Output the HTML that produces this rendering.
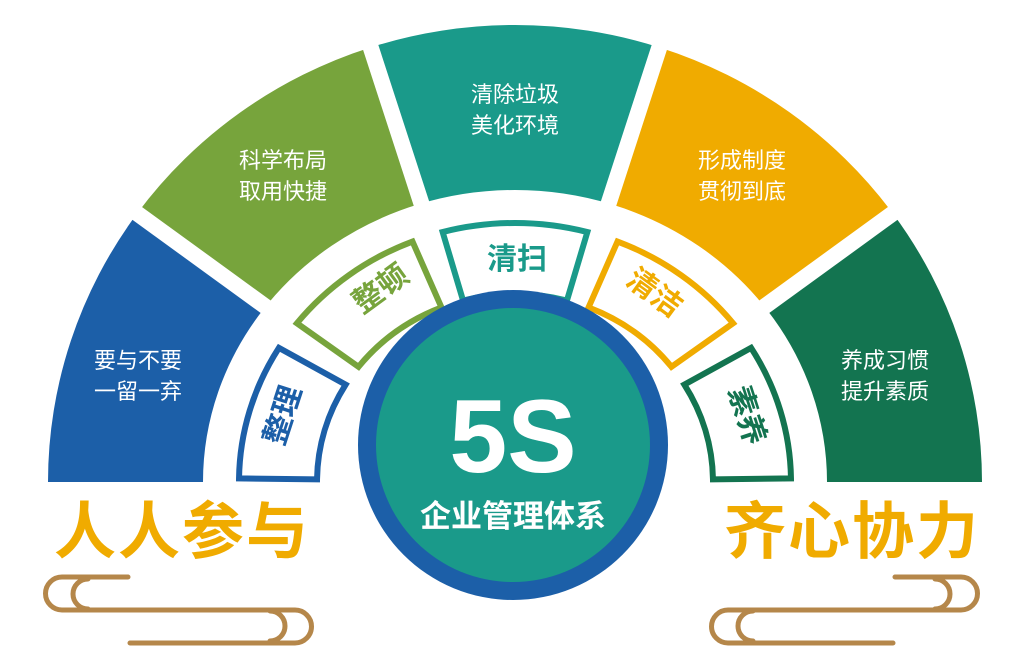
<!DOCTYPE html>
<html><head><meta charset="utf-8">
<style>
html,body{margin:0;padding:0;background:#fff;}
svg{display:block;}
text{font-family:"Liberation Sans","Noto Sans CJK SC",sans-serif;}
</style></head>
<body>
<svg id="s" width="1024" height="665" viewBox="0 0 1024 665" xmlns="http://www.w3.org/2000/svg">
<g id="shapes"></g>
<circle cx="513" cy="445" r="155" fill="#1c5fa8"/>
<circle cx="513" cy="445" r="137" fill="#1a9a8a"/>
<text x="513" y="472" text-anchor="middle" font-size="104" font-weight="bold" fill="#fff">5S</text>
<text x="513" y="527" text-anchor="middle" font-size="31" font-weight="bold" fill="#fff">企业管理体系</text>
<g font-size="22" fill="#fff" text-anchor="middle">
<text x="138" y="368">要与不要</text><text x="138" y="399">一留一弃</text>
<text x="283" y="168">科学布局</text><text x="283" y="199">取用快捷</text>
<text x="515" y="102">清除垃圾</text><text x="515" y="133">美化环境</text>
<text x="742" y="168">形成制度</text><text x="742" y="199">贯彻到底</text>
<text x="885" y="368">养成习惯</text><text x="885" y="399">提升素质</text>
</g>
<g font-size="30" font-weight="bold" text-anchor="middle">
<text transform="translate(282,415) rotate(-72)" y="11" fill="#1c5fa8">整理</text>
<text transform="translate(380,288) rotate(-36)" y="11" fill="#77a43c">整顿</text>
<text transform="translate(517,258)" y="11" fill="#1a9a8a">清扫</text>
<text transform="translate(655,292) rotate(36)" y="11" fill="#f0ab00">清洁</text>
<text transform="translate(748,415) rotate(72)" y="11" fill="#137450">素养</text>
</g>
<text x="182" y="553" text-anchor="middle" font-size="62" font-weight="bold" fill="#f0ab00" letter-spacing="2">人人参与</text>
<text x="852" y="553" text-anchor="middle" font-size="62" font-weight="bold" fill="#f0ab00" letter-spacing="2">齐心协力</text>
<g fill="none" stroke="#b5874a" stroke-width="5" stroke-linecap="round">
<g id="clip">
<path d="M128,577 H62 A16.5,16.5 0 0 0 62,610 H295 A16.5,16.5 0 0 1 295,643 H130"/>
<path d="M88,579 A15,15 0 0 0 88,609"/>
<path d="M270,611 A15,15 0 0 1 270,641"/>
</g>
<use href="#clip" transform="translate(1023,0) scale(-1,1)"/>
</g>
</svg>
<script>
(function(){
var g=document.getElementById('shapes'),cx=515,cy=482,ns='http://www.w3.org/2000/svg';
function pt(rx,ry,a){a=a*Math.PI/180;return [(cx-rx*Math.cos(a)).toFixed(2),(cy-ry*Math.sin(a)).toFixed(2)];}
function sector(r1x,r1y,r2x,r2y,a1,a2){
 var p1=pt(r2x,r2y,a1),p2=pt(r2x,r2y,a2),p3=pt(r1x,r1y,a2),p4=pt(r1x,r1y,a1);
 return 'M'+p1+' A'+r2x+','+r2y+' 0 0 1 '+p2+' L'+p3+' A'+r1x+','+r1y+' 0 0 0 '+p4+' Z';
}
function add(d,fill,stroke,sw){var p=document.createElementNS(ns,'path');p.setAttribute('d',d);p.setAttribute('fill',fill);if(stroke){p.setAttribute('stroke',stroke);p.setAttribute('stroke-width',sw);}g.appendChild(p);}
var cols=['#1c5fa8','#77a43c','#1a9a8a','#f0ab00','#137450'];
for(var i=0;i<5;i++){add(sector(312,292,467,457,i*36,(i+1)*36),cols[i]);}
for(var k=1;k<5;k++){var a=pt(250,240,k*36),b=pt(490,480,k*36);var l=document.createElementNS(ns,'line');l.setAttribute('x1',a[0]);l.setAttribute('y1',a[1]);l.setAttribute('x2',b[0]);l.setAttribute('y2',b[1]);l.setAttribute('stroke','#fff');l.setAttribute('stroke-width','16');g.appendChild(l);}
var spans=[[0,32],[37,69],[74,106],[111,143],[148,180]];
for(var j=0;j<5;j++){add(sector(198,188,276,259,spans[j][0]+0.8,spans[j][1]-0.8),'#fff',cols[j],6);}
})();
</script>
</body></html>
